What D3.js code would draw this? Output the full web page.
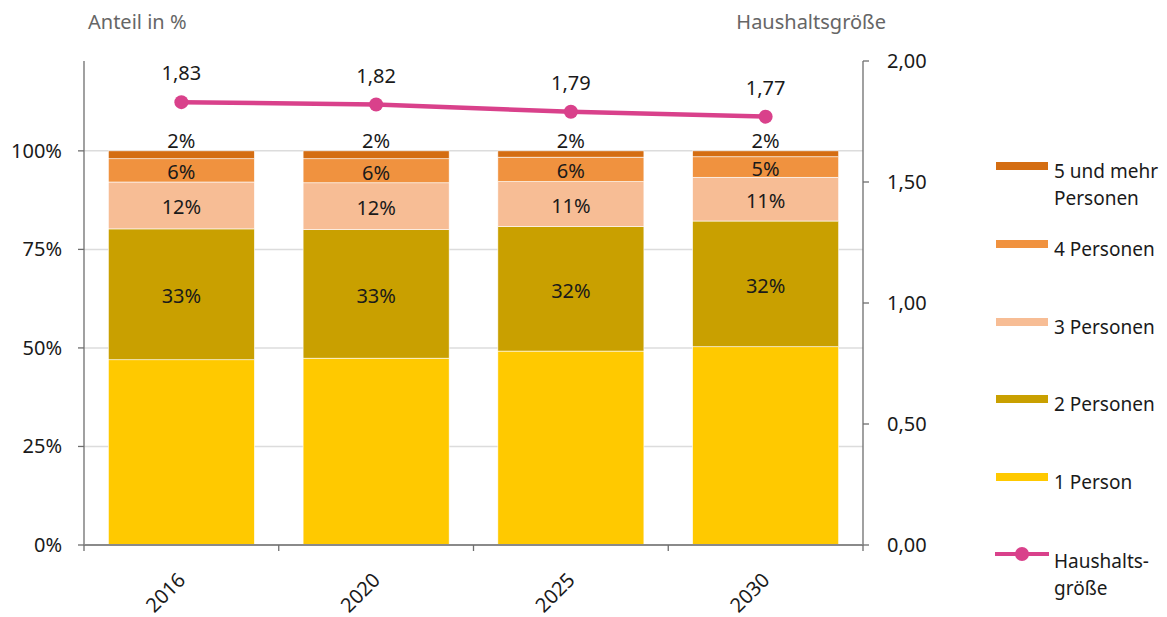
<!DOCTYPE html>
<html><head><meta charset="utf-8">
<script src="https://cdn.jsdelivr.net/npm/d3@7"></script>
<style>
body{margin:0;background:#fff;}
svg{font-family:"Noto Sans","Open Sans",sans-serif;}
</style></head>
<body><svg id="c" width="1167" height="617"></svg>
<script>
const years = ["2016","2020","2025","2030"];
const series = ["1 Person","2 Personen","3 Personen","4 Personen","5 und mehr Personen"];
const p1 = [47.0, 47.4, 49.2, 50.3];
const p2 = [33.2, 32.6, 31.6, 31.9];
const p3 = [11.9, 11.9, 11.4, 11.1];
const p4 = [5.9, 6.1, 6.2, 5.2];
const p5 = [2.0, 2.0, 1.6, 1.5];
const hhSize = [1.83, 1.82, 1.79, 1.77];
const leftTicks = [0, 25, 50, 75, 100];
const rightTicks = [0, 0.5, 1.0, 1.5, 2.0];
const colors = ["#ffc900","#c9a000","#f7bd95","#f0923f","#d46d12"];
const lineColor = "#d9418b";

const FS = 20;
const svg = d3.select("#c");
const L = 84, R = 863, B = 545, T = 61;
const x = d3.scaleBand().domain(years).range([L, R]).paddingInner(0.25).paddingOuter(0.125);
const yR = d3.scaleLinear().domain([0, 2]).range([B, T]);
const yL = d3.scaleLinear().domain([0, 100]).range([B, B - (B - T) * (100 / 122.8)]);

const fmt = d3.format(".2f");
const comma = v => fmt(v).replace(".", ",");

// gridlines
svg.append("g").selectAll("line").data(leftTicks.filter(d => d > 0)).join("line")
  .attr("x1", L).attr("x2", R).attr("y1", d => yL(d)).attr("y2", d => yL(d))
  .attr("stroke", "#dcdcdc").attr("stroke-width", 1.5);

// stacked bars
const rows = years.map((y, i) => ({year: y, "1 Person": p1[i], "2 Personen": p2[i], "3 Personen": p3[i], "4 Personen": p4[i], "5 und mehr Personen": p5[i]}));
const stack = d3.stack().keys(series)(rows);
const gBars = svg.append("g");
stack.forEach((layer, li) => {
  gBars.append("g").selectAll("rect").data(layer).join("rect")
    .attr("x", d => x(d.data.year)).attr("width", x.bandwidth())
    .attr("y", d => yL(d[1])).attr("height", d => yL(d[0]) - yL(d[1]))
    .attr("fill", colors[li]).attr("stroke", "#fff").attr("stroke-width", 0.6);
});
// labels
stack.forEach((layer, li) => {
  if (li === 0) return;
  gBars.append("g").selectAll("text").data(layer).join("text")
    .attr("x", d => x(d.data.year) + x.bandwidth() / 2)
    .attr("y", d => li === 4 ? yL(d[1]) - 3 : (yL(d[0]) + yL(d[1])) / 2 + 2)
    .attr("dy", li === 4 ? "0" : "0.35em")
    .attr("text-anchor", "middle").attr("font-size", FS).attr("fill", "#1a1a1a")
    .text(d => Math.round(d[1] - d[0]) + "%");
});

// axes
const axisColor = "#6e6e6e";
const gAx = svg.append("g");
gAx.append("line").attr("x1", L).attr("x2", L).attr("y1", T).attr("y2", B).attr("stroke", axisColor).attr("stroke-width", 1.3);
gAx.append("line").attr("x1", R).attr("x2", R).attr("y1", T).attr("y2", B).attr("stroke", axisColor).attr("stroke-width", 1.3);
gAx.append("line").attr("x1", L).attr("x2", R).attr("y1", B).attr("y2", B).attr("stroke", "#8a8a8a").attr("stroke-width", 2);
// left ticks
gAx.selectAll(".lt").data(leftTicks).join("line").attr("class","lt")
  .attr("x1", L - 6).attr("x2", L).attr("y1", d => yL(d)).attr("y2", d => yL(d)).attr("stroke", axisColor).attr("stroke-width", 1.3);
gAx.selectAll(".ltl").data(leftTicks).join("text").attr("class","ltl")
  .attr("x", 62).attr("y", d => yL(d)).attr("dy", "0.35em").attr("text-anchor", "end")
  .attr("font-size", FS).attr("fill", "#1a1a1a").text(d => d + "%");
// right ticks
gAx.selectAll(".rt").data(rightTicks).join("line").attr("class","rt")
  .attr("x1", R).attr("x2", R + 6).attr("y1", d => yR(d)).attr("y2", d => yR(d)).attr("stroke", axisColor).attr("stroke-width", 1.3);
gAx.selectAll(".rtl").data(rightTicks).join("text").attr("class","rtl")
  .attr("x", 887).attr("y", d => yR(d)).attr("dy", "0.35em").attr("text-anchor", "start")
  .attr("font-size", FS).attr("fill", "#1a1a1a").text(d => comma(d));
// x ticks at band boundaries
const bounds = years.map(y => x(y) - x.step() * x.paddingInner() / 2).concat([R]);
gAx.selectAll(".xt").data(bounds).join("line").attr("class","xt")
  .attr("x1", d => d).attr("x2", d => d).attr("y1", B).attr("y2", B + 6).attr("stroke", axisColor).attr("stroke-width", 1.3);
gAx.selectAll(".xl").data(years).join("text").attr("class","xl")
  .attr("transform", d => `translate(${x(d) + x.bandwidth() / 2 - 6},${B + 25}) rotate(-45)`)
  .attr("text-anchor", "end").attr("dy", "0.8em")
  .attr("font-size", FS).attr("fill", "#1a1a1a").text(d => d);

// axis titles
svg.append("text").attr("x", 88).attr("y", 29).attr("font-size", FS).attr("fill", "#666").text("Anteil in %");
svg.append("text").attr("x", 886).attr("y", 29).attr("text-anchor", "end").attr("font-size", FS).attr("fill", "#666").text("Haushaltsgröße");

// line
const cx = (d, i) => x(years[i]) + x.bandwidth() / 2;
svg.append("path").datum(hhSize)
  .attr("d", d3.line().x(cx).y(d => yR(d)))
  .attr("fill", "none").attr("stroke", lineColor).attr("stroke-width", 4.5);
svg.append("g").selectAll("circle").data(hhSize).join("circle")
  .attr("cx", cx).attr("cy", d => yR(d)).attr("r", 7).attr("fill", lineColor);
svg.append("g").selectAll("text").data(hhSize).join("text")
  .attr("x", cx).attr("y", d => yR(d) - 22)
  .attr("text-anchor", "middle").attr("font-size", FS).attr("fill", "#1a1a1a").text(d => comma(d));

// legend
const legendItems = [
  {label: ["5 und mehr", "Personen"], color: colors[4], y: 166},
  {label: ["4 Personen"], color: colors[3], y: 244},
  {label: ["3 Personen"], color: colors[2], y: 322},
  {label: ["2 Personen"], color: colors[1], y: 399},
  {label: ["1 Person"], color: colors[0], y: 477}
];
const gL = svg.append("g");
legendItems.forEach(it => {
  gL.append("rect").attr("x", 996).attr("y", it.y - 4).attr("width", 52).attr("height", 8).attr("fill", it.color);
  const t = gL.append("text").attr("x", 1054).attr("y", it.y + 5).attr("font-size", 19).attr("fill", "#1a1a1a");
  it.label.forEach((s, k) => t.append("tspan").attr("x", 1054).attr("dy", k === 0 ? "0.35em" : 27).text(s));
});
gL.append("line").attr("x1", 995).attr("x2", 1049).attr("y1", 554).attr("y2", 554).attr("stroke", lineColor).attr("stroke-width", 4);
gL.append("circle").attr("cx", 1022).attr("cy", 554).attr("r", 7).attr("fill", lineColor);
const tl = gL.append("text").attr("x", 1054).attr("y", 561).attr("font-size", 19).attr("fill", "#1a1a1a");
tl.append("tspan").attr("x", 1054).attr("dy", "0.35em").text("Haushalts-");
tl.append("tspan").attr("x", 1054).attr("dy", 27).text("größe");
</script></body></html>
